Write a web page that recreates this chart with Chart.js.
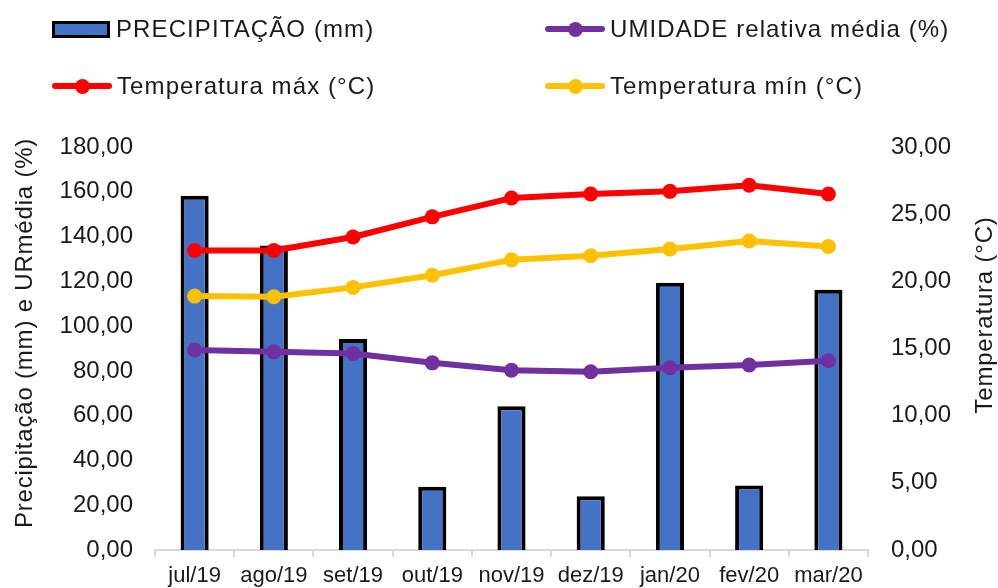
<!DOCTYPE html>
<html>

<head>
    <meta charset="utf-8">
    <title>Precipitação, umidade e temperatura</title>
    <style>
        body { margin: 0; background: #fff; font-family: "Liberation Sans", Arial, sans-serif; }
        .wrap { position: relative; width: 998px; height: 588px; }
        #legend { position: absolute; left: 0; top: 0; width: 998px; height: 110px; }
        .item { position: absolute; display: flex; align-items: center; height: 30px;
                font-size: 24px; letter-spacing: 1.1px; color: #1a1a1a; white-space: nowrap; }
        .box { width: 58px; height: 17px; box-sizing: border-box; border: 3.5px solid #000; margin-right: 6px; }
        .mk { position: relative; width: 60px; height: 15px; margin-right: 5px; }
        .mk .ln { position: absolute; left: 0; right: 0; top: 4.5px; height: 6px; border-radius: 3px; }
        .mk .pt { position: absolute; left: 23px; top: 0; width: 15px; height: 15px; border-radius: 50%; }
    </style>
</head>

<body>
    <div class="wrap">
        <canvas id="chart" width="998" height="588"></canvas>
        <div id="legend"></div>
    </div>

    <script src="https://cdn.jsdelivr.net/npm/chart.js"></script>

    <script>
        // dados
        const meses = ['jul/19', 'ago/19', 'set/19', 'out/19', 'nov/19', 'dez/19', 'jan/20', 'fev/20', 'mar/20'];
        const precipitacao = [158.2, 136.0, 94.2, 28.2, 64.2, 24.0, 119.4, 28.8, 116.2];
        const umidade = [89.3, 88.5, 87.8, 83.6, 80.3, 79.6, 81.4, 82.6, 84.5];
        const tempMax = [22.3, 22.3, 23.3, 24.8, 26.2, 26.5, 26.7, 27.15, 26.5];
        const tempMin = [18.9, 18.85, 19.55, 20.45, 21.6, 21.9, 22.4, 23.0, 22.6];

        const nomes = ['PRECIPITAÇÃO (mm)', 'UMIDADE relativa média (%)', 'Temperatura máx (°C)', 'Temperatura mín (°C)'];
        const tituloEsq = 'Precipitação (mm) e URmédia (%)';
        const tituloDir = 'Temperatura (°C)';

        const azul = '#4472c4', roxo = '#7030a0', vermelho = '#ff0000', amarelo = '#ffc000';
        const fonte = '"Liberation Sans", Arial, sans-serif';
        const corTexto = '#1a1a1a';

        function virgula(v) {
            return Number(v).toFixed(2).replace('.', ',');
        }

        function linha(label, data, cor) {
            return {
                type: 'line',
                label: label,
                data: data,
                yAxisID: label === nomes[1] ? 'y' : 'y1',
                borderColor: cor,
                backgroundColor: cor,
                borderWidth: 6,
                borderJoinStyle: 'round',
                borderCapStyle: 'round',
                pointRadius: 7.5,
                pointBorderWidth: 0,
                pointBackgroundColor: cor,
                tension: 0,
                order: 1
            };
        }

        // títulos dos eixos (o da direita lê de baixo para cima)
        const titulosEixos = {
            id: 'titulosEixos',
            afterDraw(chart) {
                const ctx = chart.ctx;
                ctx.save();
                ctx.font = '24px ' + fonte;
                ctx.letterSpacing = '0.8px';
                ctx.fillStyle = corTexto;
                ctx.textAlign = 'center';
                ctx.textBaseline = 'middle';
                ctx.translate(chart.scales.y.left + 25, 333);
                ctx.rotate(-Math.PI / 2);
                ctx.fillText(tituloEsq, 0, 0);
                ctx.restore();

                ctx.save();
                ctx.font = '24px ' + fonte;
                ctx.letterSpacing = '0.8px';
                ctx.fillStyle = corTexto;
                ctx.textAlign = 'center';
                ctx.textBaseline = 'middle';
                ctx.translate(chart.scales.y1.right - 13, 315);
                ctx.rotate(-Math.PI / 2);
                ctx.fillText(tituloDir, 0, 0);
                ctx.restore();
            }
        };

        const ctx = document.getElementById('chart');

        const chart = new Chart(ctx, {
            data: {
                labels: meses,
                datasets: [
                    {
                        type: 'bar',
                        label: nomes[0],
                        data: precipitacao,
                        yAxisID: 'y',
                        backgroundColor: azul,
                        borderColor: '#000',
                        borderWidth: 4,
                        borderSkipped: 'bottom',
                        barPercentage: 0.355,
                        categoryPercentage: 1,
                        order: 2
                    },
                    linha(nomes[1], umidade, roxo),
                    linha(nomes[2], tempMax, vermelho),
                    linha(nomes[3], tempMin, amarelo)
                ]
            },
            options: {
                responsive: false,
                animation: false,
                layout: { padding: { top: 147, left: 0, right: 0, bottom: 0 } },
                plugins: {
                    legend: { display: false },
                    tooltip: { enabled: false }
                },
                scales: {
                    x: {
                        offset: true,
                        grid: { display: true, drawOnChartArea: false, drawTicks: true, tickLength: 7,
                                color: '#d9d9d9', lineWidth: 2, offset: true },
                        border: { display: true, color: '#d9d9d9', width: 2 },
                        ticks: { color: corTexto, font: { family: fonte, size: 22 }, padding: 6, maxRotation: 0 },
                        afterFit: s => { s.height = 38; }
                    },
                    y: {
                        position: 'left',
                        min: 0,
                        max: 180,
                        grid: { display: false, drawTicks: false },
                        border: { display: false },
                        ticks: { stepSize: 20, color: corTexto, font: { family: fonte, size: 24 }, padding: 22,
                                 callback: v => virgula(v) },
                        afterFit: s => { s.width = 155; }
                    },
                    y1: {
                        position: 'right',
                        min: 0,
                        max: 30,
                        grid: { display: false, drawTicks: false },
                        border: { display: false },
                        ticks: { stepSize: 5, color: corTexto, font: { family: fonte, size: 24 }, padding: 23,
                                 callback: v => virgula(v) },
                        afterFit: s => { s.width = 130; }
                    }
                }
            },
            plugins: [titulosEixos]
        });

        // legenda em duas colunas, como no original
        const posLegenda = [[52, 14], [545, 14], [52, 71], [545, 71]];
        const legenda = document.getElementById('legend');
        chart.data.datasets.forEach((ds, i) => {
            const item = document.createElement('div');
            item.className = 'item';
            item.style.left = posLegenda[i][0] + 'px';
            item.style.top = posLegenda[i][1] + 'px';
            let marca;
            if (ds.type === 'bar') {
                marca = '<div class="box" style="background:' + ds.backgroundColor + '"></div>';
            } else {
                marca = '<div class="mk"><div class="ln" style="background:' + ds.borderColor + '"></div>' +
                    '<div class="pt" style="background:' + ds.borderColor + '"></div></div>';
            }
            item.innerHTML = marca + '<span>' + ds.label + '</span>';
            legenda.appendChild(item);
        });
    </script>
</body>

</html>
